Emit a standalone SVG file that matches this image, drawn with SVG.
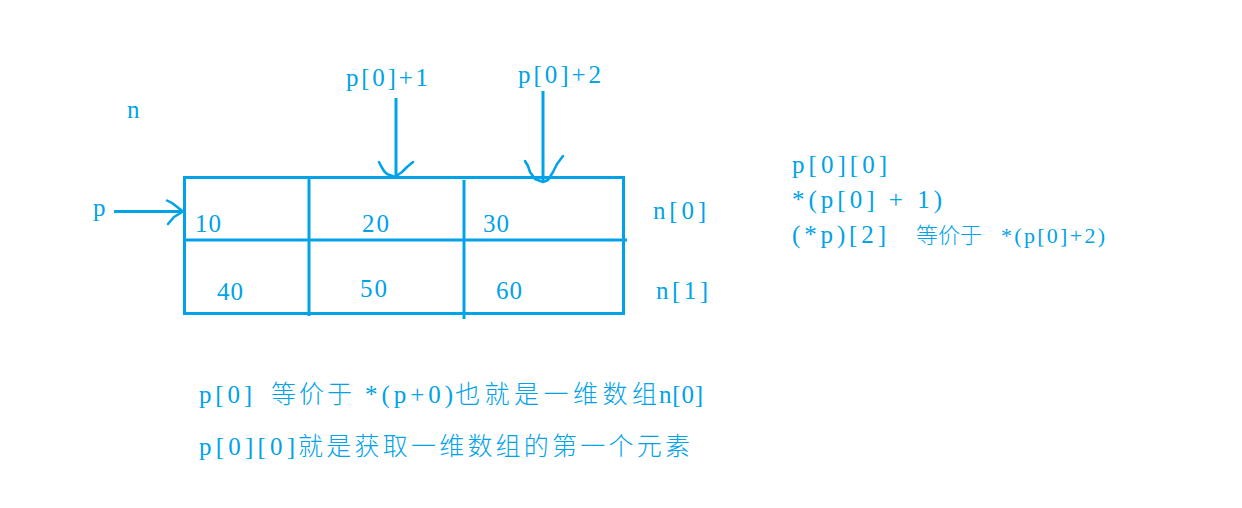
<svg xmlns="http://www.w3.org/2000/svg" width="1242" height="508" viewBox="0 0 1242 508">
<style>
.ln{stroke:#00A2E8;stroke-width:3;fill:none;stroke-linecap:butt}
.hd{stroke:#00A2E8;stroke-width:2.5;fill:none;stroke-linecap:round;stroke-linejoin:round}
text{fill:#00A2E8;font-family:"Liberation Serif","Noto Sans CJK SC",serif;font-size:25px;font-weight:300}
</style>
<rect width="1242" height="508" fill="#ffffff"/>
<g id="array">
<rect class="ln" x="184.5" y="177.5" width="439" height="136"/>
<line class="ln" x1="309" y1="177" x2="309" y2="316"/>
<line class="ln" x1="464" y1="180" x2="464" y2="319"/>
<line class="ln" x1="184" y1="240" x2="627" y2="240"/>
<text x="195" y="232" textLength="26">10</text>
<text x="362" y="232" textLength="27">20</text>
<text x="483" y="232" textLength="26">30</text>
<text x="217" y="300" textLength="26">40</text>
<text x="360" y="297" textLength="27">50</text>
<text x="496" y="299" textLength="26">60</text>
</g>
<g id="label-n"><text x="127" y="118" textLength="13">n</text></g>
<g id="label-p"><text x="93" y="216" textLength="13">p</text></g>
<g id="label-p01"><text x="346" y="86" textLength="82" lengthAdjust="spacing">p[0]+1</text></g>
<g id="label-p02"><text x="518" y="83" textLength="83" lengthAdjust="spacing">p[0]+2</text></g>
<g id="label-n0"><text x="653" y="219" textLength="53" lengthAdjust="spacing">n[0]</text></g>
<g id="label-n1"><text x="656" y="299" textLength="52" lengthAdjust="spacing">n[1]</text></g>
<g id="notes-right">
<text x="792" y="173" textLength="95" lengthAdjust="spacing">p[0][0]</text>
<text x="792" y="208" textLength="150" lengthAdjust="spacing">*(p[0] + 1)</text>
<text y="243"><tspan x="792" textLength="94" lengthAdjust="spacing">(*p)[2]</tspan><tspan x="916" style="font-size:22px">等价于</tspan><tspan x="1001" style="font-size:22px" textLength="104" lengthAdjust="spacing">*(p[0]+2)</tspan></text>
</g>
<g id="notes-bottom">
<text y="403"><tspan x="199" textLength="53" lengthAdjust="spacing">p[0]</tspan><tspan x="271" textLength="81" lengthAdjust="spacing">等价于</tspan><tspan x="365" textLength="88" lengthAdjust="spacing">*(p+0)</tspan><tspan x="455" textLength="202" lengthAdjust="spacing">也就是一维数组</tspan><tspan x="659" textLength="44" lengthAdjust="spacing">n[0]</tspan></text>
<text y="455"><tspan x="199" textLength="96" lengthAdjust="spacing">p[0][0]</tspan><tspan x="298" textLength="392" lengthAdjust="spacing">就是获取一维数组的第一个元素</tspan></text>
</g>
<g id="connectors">
<line class="ln" x1="114" y1="211.5" x2="183" y2="211.5"/>
<path class="hd" d="M167 200.5 L172 203 L183 211.5 L174 217 L168 224"/>
<line class="ln" x1="396" y1="98" x2="396" y2="177"/>
<path class="hd" d="M379 162 L381 166 L384 171 L387 174 L395 177 L402 172 L407 167 L413 162"/>
<line class="ln" x1="543" y1="91" x2="543" y2="182"/>
<path class="hd" d="M525 161 L528 166 L530 172 L535 179 L543 182 L548 180 L553 172 L557 164 L563 156"/>
</g>
</svg>
